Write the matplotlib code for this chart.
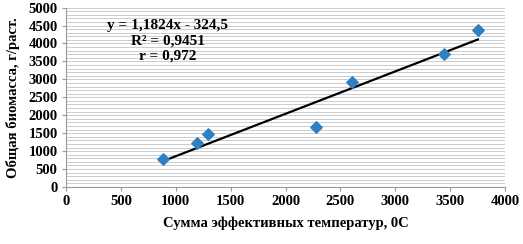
import numpy as np
import matplotlib.pyplot as plt

# сумма эффективных температур и биомасса
temp_sum = [881, 1191, 1291, 2275, 2609, 3447, 3751]
biomass = [773, 1220, 1472, 1684, 2913, 3706, 4385]
slope, intercept = 1.1824, -324.5
eq_lines = ["y = 1,1824x - 324,5", "R² = 0,9451", "r = 0,972"]
x_ticks = np.arange(0, 4001, 500)
y_ticks = np.arange(0, 5001, 500)

plt.rcParams['font.family'] = ['Liberation Serif', 'DejaVu Serif']
plt.rcParams['font.weight'] = 'bold'

fig = plt.figure(figsize=(5.23, 2.44), dpi=100)
ax = fig.add_axes([0.126, 0.2336, 0.84, 0.7354])

# сетка через 100
for v in np.arange(100, 5001, 100):
    ax.axhline(v, color='#cccccc', lw=0.7, zorder=0)

xl = np.array([min(temp_sum), max(temp_sum)])
ax.plot(xl, slope * xl + intercept, color='black', lw=1.6, zorder=2)
ax.scatter(temp_sum, biomass, marker='D', s=34, color='#2f7fc1', zorder=3)

ax.set_xlim(0, 4000)
ax.set_ylim(0, 5000)
ax.set_xticks(x_ticks)
ax.set_yticks(y_ticks)
ax.tick_params(labelsize=10.5, length=3, color='#999999', pad=3)
for s in ['top', 'right']:
    ax.spines[s].set_visible(False)
for s in ['left', 'bottom']:
    ax.spines[s].set_color('#999999')
    ax.spines[s].set_linewidth(0.8)

ax.text(0.232, 0.935, "\n".join(eq_lines), transform=ax.transAxes, ha='center', va='top',
        fontsize=11, fontweight='bold', linespacing=1.2)

ax.set_xlabel("Сумма эффективных температур, 0С", fontsize=10.5, fontweight='bold', labelpad=6)
ax.set_ylabel("Общая биомасса, г/раст.", fontsize=10.5, fontweight='bold', labelpad=6)

fig.savefig('out.png', dpi=100)
